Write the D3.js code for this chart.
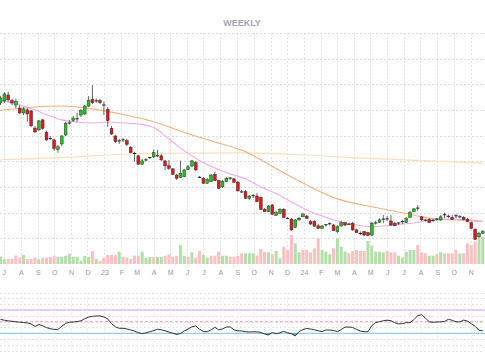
<!DOCTYPE html>
<html><head><meta charset="utf-8">
<script src="https://cdn.jsdelivr.net/npm/d3@7"></script>
<style>body{margin:0;background:#fff}svg{display:block;font-family:"Liberation Sans",Arial,sans-serif}</style>
</head><body><svg id="c" width="485" height="360"></svg>
<script>
const title = "WEEKLY";
const firstWeek = "2022-06-25";
const opens = [62.8,63.6,65.9,63.7,62.0,60.8,58.9,60.1,59.7,53.0,
52.3,56.2,51.2,49.1,48.4,44.7,46.8,50.3,54.8,55.9,
56.4,58.1,58.5,61.6,64.2,63.8,63.7,62.2,60.3,52.9,
49.9,48.2,48.2,48.1,45.5,43.3,42.2,38.9,40.5,41.3,
41.8,42.3,42.2,40.2,38.3,37.1,34.7,33.8,34.0,36.9,
38.2,39.5,33.9,33.4,31.5,32.1,35.0,32.5,30.1,32.1,
33.3,33.2,31.9,28.3,28.2,25.6,26.4,26.5,25.9,21.3,
20.4,23.0,19.0,19.8,21.3,17.9,17.4,14.3,17.2,18.4,
18.7,16.5,16.5,14.9,13.9,15.1,15.5,15.2,12.6,14.8,
16.1,15.6,15.9,13.3,12.1,12.6,12.2,11.3,15.8,16.3,
17.4,17.5,16.8,15.9,15.8,16.3,16.1,18.2,20.4,21.6,
18.4,17.2,17.4,16.8,17.4,17.2,19.0,18.8,18.2,18.6,
18.5,18.2,17.4,16.1,13.5,10.6,12.0];
const highs = [65.5,67.1,67.1,64.4,64.4,62.0,61.2,60.8,60.1,53.8,
56.2,56.6,51.9,49.9,48.8,46.4,50.3,55.4,56.2,57.7,
58.9,60.5,62.0,65.5,69.8,64.5,64.4,63.3,61.2,53.8,
50.3,48.8,49.1,48.8,46.0,43.7,42.5,41.0,41.3,41.7,
44.5,44.5,42.9,40.6,40.6,37.4,35.1,40.3,37.1,38.6,
40.6,40.2,34.3,33.9,33.5,35.1,35.9,32.8,32.8,33.9,
33.9,33.5,32.4,28.9,28.9,26.9,27.3,27.7,26.1,21.8,
23.0,23.4,20.7,21.8,21.8,18.3,17.9,17.6,18.3,20.0,
19.1,17.2,17.2,15.6,15.2,15.6,16.2,15.6,15.2,16.9,
16.4,16.0,16.4,13.7,12.7,12.9,12.5,16.4,16.8,17.9,
19.1,18.7,19.1,16.4,16.4,17.2,18.3,20.7,21.8,23.0,
18.7,17.7,17.9,17.6,17.9,19.1,20.0,19.3,19.1,19.5,
19.1,18.7,17.9,16.4,14.0,12.5,13.3];
const lows = [62.0,62.8,63.2,62.0,60.8,58.5,58.1,55.5,53.4,51.1,
51.9,52.3,48.0,48.4,44.2,43.4,46.0,49.9,54.4,55.4,
55.4,57.3,58.1,61.2,62.4,62.8,62.4,58.1,53.5,50.3,
47.2,46.8,47.6,46.0,43.3,39.9,38.6,38.6,40.0,41.0,
41.3,41.7,40.2,36.7,36.7,34.7,32.8,33.5,33.9,36.7,
37.8,36.3,33.5,31.2,31.2,32.0,32.4,29.3,29.6,32.0,
32.8,31.6,28.3,27.7,25.4,25.0,25.7,24.2,21.1,20.3,
20.3,19.1,18.7,19.5,17.9,17.6,12.9,14.0,16.8,18.3,
17.6,15.2,14.4,13.7,13.7,14.6,15.0,12.9,12.1,14.6,
14.8,15.2,12.9,12.1,11.3,10.9,10.9,10.9,15.4,16.0,
15.9,16.8,14.8,14.8,15.2,15.6,16.0,17.9,20.3,20.7,
16.8,16.6,16.0,16.4,16.8,16.8,17.9,17.9,17.2,17.9,
17.9,17.2,16.4,13.7,9.4,10.1,11.7];
const closes = [64.7,66.3,64.0,62.8,63.3,58.9,60.5,58.5,53.9,51.5,
55.8,52.9,48.4,48.9,45.1,45.7,49.9,54.9,55.0,56.9,
56.6,59.8,61.6,63.7,62.9,63.6,62.9,62.0,55.9,50.7,
47.7,48.0,48.4,46.7,43.4,43.1,38.9,40.2,40.6,41.5,
43.4,42.2,40.6,38.3,37.3,35.0,33.4,35.4,36.7,37.9,
40.2,36.7,33.8,31.5,33.0,34.7,32.5,29.5,32.1,33.4,
33.5,31.9,28.5,28.1,25.6,26.5,26.6,24.3,21.3,20.4,
22.6,19.4,20.0,21.3,18.1,17.7,13.3,17.2,17.8,19.5,
17.8,15.6,14.8,13.9,14.8,15.3,15.7,13.0,14.5,16.1,
15.2,15.5,13.3,12.2,11.9,11.3,11.2,15.9,16.0,17.2,
17.5,17.6,15.2,14.9,16.0,16.5,17.8,20.0,21.5,21.8,
17.2,17.1,16.1,17.0,17.5,18.4,19.2,18.6,17.4,18.8,
18.4,17.4,16.5,13.9,9.6,12.0,12.6];
const volumes = [7.3,4.7,5,5,8.3,6.3,9,5,5,6.3,
4.7,6.3,6.3,7,8.3,7.3,7.3,8.3,10,7,
7.3,3.3,8,7,13,5,3,6.3,9,9,
9,12.3,7.3,6.3,5,8.3,8.3,12.3,6.3,7,
7,7,7,8.3,9.7,7.3,8.3,19,8.3,7.3,
11.7,6.3,13,9,6.3,8.3,8.3,12.3,8.3,8.3,
7.3,7.3,8.3,10.7,10.7,10.7,10.7,8.3,15,12.3,
11.7,9.7,13,5.7,17.3,14,29,20.7,11.7,14,
14,11.7,15.7,25.7,14,12.3,9.7,15.7,25.7,17.3,
12.3,10.7,13,14,13,13,23,18.3,12.3,12.3,
11.7,13,11.7,11.7,8.3,6.3,12.3,14,14,19,
11.7,10.7,8.3,8.3,9.7,11.7,10.7,10.7,10.7,14,
10.7,10.7,20.7,19,22.3,25.7,27.3];
const volumeUp = [1,1,0,0,0,0,1,0,0,0,
1,0,0,0,0,1,1,1,1,1,
1,1,1,1,0,1,0,0,0,0,
0,1,0,0,0,0,0,1,1,1,
0,1,1,0,0,0,0,1,1,0,
1,0,0,1,1,0,0,0,1,1,
0,0,0,0,1,1,1,0,0,0,
1,0,1,1,0,0,0,1,1,0,
0,0,0,0,1,1,1,0,1,1,
1,0,0,0,0,0,1,1,1,1,
1,0,0,0,1,1,1,1,1,0,
0,0,1,1,0,1,0,0,0,0,
1,0,0,0,0,1,1];
const rsi = [53.9,52.5,51.3,50.6,49.7,49.1,48.4,47.9,46.1,41.7,
45.1,42.9,39.8,37.9,36.7,36.7,42.0,46.8,49.1,49.4,
50.1,51.5,55.1,57.8,59.2,59.7,59.7,58.1,54.7,46.5,
41.2,38.6,38.6,37.4,35.8,33.6,31.2,29.3,30.9,32.6,
34.5,37.0,36.2,34.3,32.2,30.2,28.0,29.7,34.0,37.4,
41.2,42.7,37.0,33.1,32.8,35.8,40.3,35.8,37.6,40.7,
41.0,35.8,34.3,34.0,32.8,32.2,32.6,32.4,31.4,28.8,
27.1,31.4,29.2,30.9,33.4,30.9,29.3,25.7,32.9,36.4,
38.3,37.4,36.0,34.3,32.9,35.7,35.7,35.0,32.8,36.4,
40.7,40.8,40.1,36.7,33.8,32.8,32.8,43.2,48.4,49.9,
51.6,52.5,51.6,48.2,46.0,46.7,48.2,48.2,53.5,60.2,
61.9,56.1,49.7,48.9,49.4,49.7,50.3,54.0,52.3,49.7,
49.6,52.7,50.8,46.5,42.0,35.2,34.5];
const maFastWeek = [0,4,8,12,16,20,24,28,32,36,40,44,48,52,56,60,64,68,72,76,80,84,88,92,96,100,104,108,112,116,120,124,126];
const maFast = [63.6,62.6,60.6,58.3,56.2,55.3,55.0,55.4,55.0,54.6,53.2,48.8,44.1,40.4,37.4,35.1,33.2,30.0,27.5,24.2,21.1,18.7,16.8,15.6,14.6,14.8,15.4,16.0,17.0,17.4,17.4,17.0,16.6];
const maMidWeek = [0,8,16,24,32,40,48,56,64,72,80,88,96,104,112,120,126];
const maMid = [59.9,61.1,61.6,60.5,58.3,55.5,51.3,47.6,43.8,37.2,30.8,25.4,22.6,20.3,17.9,17.1,16.5];
const maSlowWeek = [0,16,32,48,64,80,96,112,126];
const maSlow = [40.6,41.5,42.8,43.2,43.3,42.5,41.2,40.2,39.3];
const priceGrid = [10,20,30,40,50,60,70,80,90];
const oscGrid = [0,10,20,30,40,50,60,70,80,90,100];
const monthLabels = ["J","A","S","O","N","D","23","F","M","A","M","J","J","A","S","O","N","D","24","F","M","A","M","J","J","A","S","O","N"];
const levels = {over:70, mid:50, under:30};

const W = 485;
const svg = d3.select("#c");
const parse = d3.timeParse("%Y-%m-%d");
const d0 = parse(firstWeek);
const dates = opens.map((_, i) => d3.timeDay.offset(d0, 7 * i));
const x = d3.scaleTime().domain([parse("2022-06-24"), parse("2024-11-27")]).range([0, W]);
const y = d3.scaleLinear().domain([0, 90]).range([264, 33.2]);
const yv = d3.scaleLinear().domain([0, 30]).range([264, 234]);
const yr = d3.scaleLinear().domain([0, 100]).range([350.8, 292.5]);
const monthTicks = d3.timeMonth.range(parse("2022-07-01"), parse("2024-11-02"));
const px = v => Math.round(v) + 0.5;

// title
svg.append("text").attr("x", 242).attr("y", 26).attr("text-anchor", "middle")
  .attr("font-size", 9).attr("font-weight", "bold").attr("fill", "#a2a6b6").text(title);

// main grid
const g = svg.append("g");
g.selectAll(".hg").data(priceGrid).join("line")
  .attr("x1", 0).attr("x2", W).attr("y1", d => px(y(d))).attr("y2", d => px(y(d)))
  .attr("stroke", "#dcdcdc").attr("stroke-dasharray", "2,2");
g.selectAll(".vg").data(monthTicks).join("line")
  .attr("x1", d => px(x(d))).attr("x2", d => px(x(d))).attr("y1", y(90)).attr("y2", 264)
  .attr("stroke", "#e2e2e2").attr("stroke-dasharray", "2,2");

// volume
svg.append("g").selectAll("rect").data(volumes).join("rect")
  .attr("x", (d, i) => x(dates[i]) - 1.5).attr("width", 3)
  .attr("y", d => yv(d)).attr("height", d => yv(0) - yv(d))
  .attr("fill", (d, i) => volumeUp[i] ? "#b2dfa9" : "#fbc1c1");

// moving averages
const maLine = (weeks) => d3.line().x((d, i) => x(dates[weeks[i]])).y(d => y(d)).curve(d3.curveMonotoneX);
svg.append("path").attr("d", maLine(maSlowWeek)(maSlow)).attr("fill", "none").attr("stroke", "#fbdfba").attr("stroke-width", 1.2);
svg.append("path").attr("d", maLine(maMidWeek)(maMid)).attr("fill", "none").attr("stroke", "#f8b07c").attr("stroke-width", 1.1);
svg.append("path").attr("d", maLine(maFastWeek)(maFast)).attr("fill", "none").attr("stroke", "#f0aaea").attr("stroke-width", 1.1);

// candles
const cg = svg.append("g");
opens.forEach((o, i) => {
  const c = closes[i], cx = x(dates[i]);
  cg.append("line").attr("x1", cx).attr("x2", cx).attr("y1", y(highs[i])).attr("y2", y(lows[i]))
    .attr("stroke", "#555").attr("stroke-width", 0.9);
  if (Math.abs(o - c) < 0.3) {
    cg.append("line").attr("x1", cx - 1.7).attr("x2", cx + 1.7).attr("y1", y(c)).attr("y2", y(c))
      .attr("stroke", "#222").attr("stroke-width", 1);
  } else {
    const top = y(Math.max(o, c)), bot = y(Math.min(o, c));
    cg.append("rect").attr("x", cx - 1.4).attr("width", 2.8).attr("y", top).attr("height", Math.max(1, bot - top))
      .attr("fill", c > o ? "#22c41f" : "#e3141a").attr("stroke", "#333").attr("stroke-width", 0.5);
  }
});

// month axis
const ax = svg.append("g").attr("transform", "translate(0,267)")
  .call(d3.axisBottom(x).tickValues(monthTicks).tickFormat((d, i) => monthLabels[i]).tickSize(0));
ax.select(".domain").remove();
ax.selectAll("text").attr("font-size", 7).attr("fill", "#999").attr("font-family", "Liberation Sans, Arial, sans-serif");

// oscillator panel
const og = svg.append("g");
og.selectAll(".oh").data(oscGrid).join("line")
  .attr("x1", 0).attr("x2", W).attr("y1", d => px(yr(d))).attr("y2", d => px(yr(d)))
  .attr("stroke", "#e4e4e4").attr("stroke-dasharray", "2,2");
og.selectAll(".ov").data(monthTicks).join("line")
  .attr("x1", d => px(x(d))).attr("x2", d => px(x(d))).attr("y1", yr(100)).attr("y2", yr(0))
  .attr("stroke", "#eeeeee").attr("stroke-dasharray", "2,2");
og.append("line").attr("x1", 0).attr("x2", W).attr("y1", yr(levels.over)).attr("y2", yr(levels.over))
  .attr("stroke", "#dca4ee").attr("stroke-width", 1.2);
og.append("line").attr("x1", 0).attr("x2", W).attr("y1", yr(levels.mid)).attr("y2", yr(levels.mid))
  .attr("stroke", "#f6a7a7").attr("stroke-dasharray", "3,2").attr("stroke-width", 1);
og.append("line").attr("x1", 0).attr("x2", W).attr("y1", yr(levels.under)).attr("y2", yr(levels.under))
  .attr("stroke", "#94cbe8").attr("stroke-width", 1.2);
og.append("path").datum(rsi)
  .attr("d", d3.area().x((d, i) => x(dates[i])).y0(yr(levels.under)).y1(d => yr(Math.min(d, levels.under))))
  .attr("fill", "#4ba6d9");
og.append("path").datum(rsi)
  .attr("d", d3.line().x((d, i) => x(dates[i])).y(d => yr(d)))
  .attr("fill", "none").attr("stroke", "#333").attr("stroke-width", 1);
</script></body></html>
